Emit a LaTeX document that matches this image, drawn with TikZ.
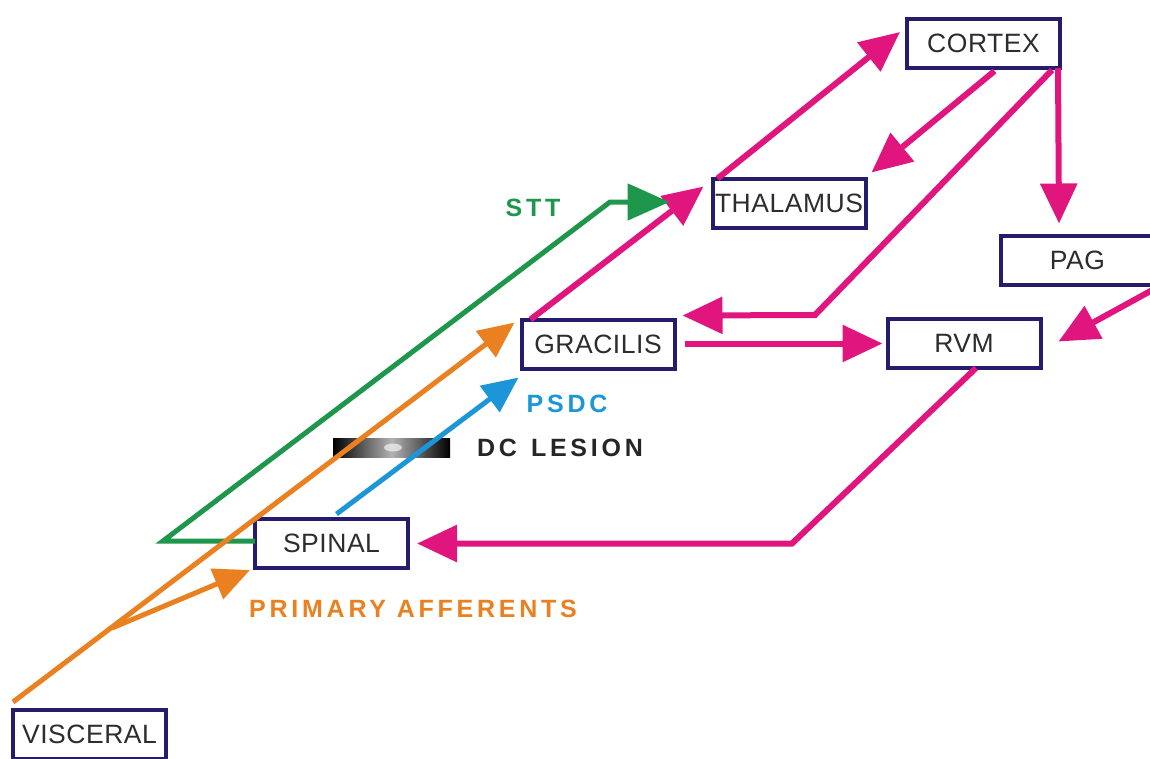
\documentclass[tikz,border=0pt]{standalone}
\usepackage{fontspec}
\setmainfont{Liberation Sans}
\usetikzlibrary{arrows.meta,calc}
\definecolor{mag}{RGB}{224,22,126}
\definecolor{navy}{RGB}{38,28,108}
\definecolor{grn}{RGB}{30,150,76}
\definecolor{org}{RGB}{234,128,32}
\definecolor{blu}{RGB}{28,150,216}
\definecolor{txt}{RGB}{45,45,45}
\begin{document}
\begin{tikzpicture}[x=1pt,y=-1pt,
  box/.style={draw=navy, line width=4pt, fill=white, minimum width=153pt, minimum height=49pt,
    inner sep=0pt, outer sep=0pt, text=txt, font=\fontsize{26.5}{29}\selectfont\addfontfeature{LetterSpace=2}},
  mconn/.style={draw=mag, line width=6pt, -{Triangle[length=40pt,width=36pt]}},
  gconn/.style={draw=grn, line width=5pt, -{Triangle[length=42pt,width=36pt]}},
  oconn/.style={draw=org, line width=5pt, -{Triangle[length=36pt,width=32pt]}},
  bconn/.style={draw=blu, line width=5pt, -{Triangle[length=36pt,width=32pt]}},
  lab/.style={font=\fontsize{25}{28}\selectfont\bfseries\addfontfeature{LetterSpace=15}},
]
\useasboundingbox (0,0) rectangle (1150,758);

% boxes
\node[box] (cortex) at (983.5,43.5) {CORTEX};
\node[box] (thal)   at (789,203)    {THALAMUS};
\node[box] (pag)    at (1077.5,260) {PAG};
\node[box] (grac)   at (598,344)    {GRACILIS};
\node[box] (rvm)    at (964,343.5)  {RVM};
\node[box] (spinal) at (331.5,543.5){SPINAL};
\node[box] (visc)   at (89.5,734.5) {VISCERAL};

% free-end coordinates
\coordinate (pagin) at (1156,288);
\coordinate (gbend1) at (163,541);
\coordinate (gbend2) at (610,202);
\coordinate (mbend1) at (815,315);
\coordinate (mbend2) at (792,543.5);
\coordinate (ojoin) at (112,628);

% DC lesion bar
\shade[left color=black, right color=black, middle color=white!70!black] (333,438) rectangle (450,457);
\fill[white, opacity=0.6] (393,447.5) ellipse [x radius=9pt, y radius=4pt];

% magenta connectors
\draw[mconn] ($(grac.north west)+(9,0)$) -- ($(thal.north west)+(-9,8)$);
\draw[mconn] ($(thal.north west)+(5,0)$) -- ($(cortex.north west)+(-7,13)$);
\draw[mconn] ($(cortex.south)+(11,3)$) -- ($(thal.north east)+(6,-6)$);
\draw[mconn] ($(cortex.south east)+(-2,0)$) -- ($(pag.north west)+(58,-12)$);
\draw[mconn] ($(cortex.south east)+(-8,2)$) -- (mbend1) -- ($(grac.north east)+(8,-4)$);
\draw[mconn] ($(grac.east)+(10,-0.5)$) -- ($(rvm.west)+(-5,0)$);
\draw[mconn] (pagin) -- ($(rvm.east)+(18,-2)$);
\draw[mconn] ($(rvm.south)+(12,0)$) -- (mbend2) -- ($(spinal.east)+(9,0)$);

% green STT
\draw[gconn] ($(spinal.west)+(0,-2.5)$) -- (gbend1) -- (gbend2) -- ($(thal.west)+(-43,-1)$);

% blue PSDC
\draw[bconn] ($(spinal.north)+(5,-5)$) -- ($(grac.south west)+(-3,9)$);

% orange primary afferents
\draw[oconn] ($(visc.north west)+(0,-8)$) -- ($(grac.north west)+(-7,3)$);
\draw[oconn] (ojoin) -- ($(spinal.south west)+(-5,2)$);

% labels
\node[lab, text=grn] (stt) at (533,208) {STT};
\node[lab, text=blu] (psdc) at (567,404) {PSDC};
\node[lab, text=black!85] (dcl) at (560,448) {DC\hspace{14pt}LESION};
\node[lab, text=org] (pa) at (413,609) {PRIMARY AFFERENTS};
\end{tikzpicture}
\end{document}
